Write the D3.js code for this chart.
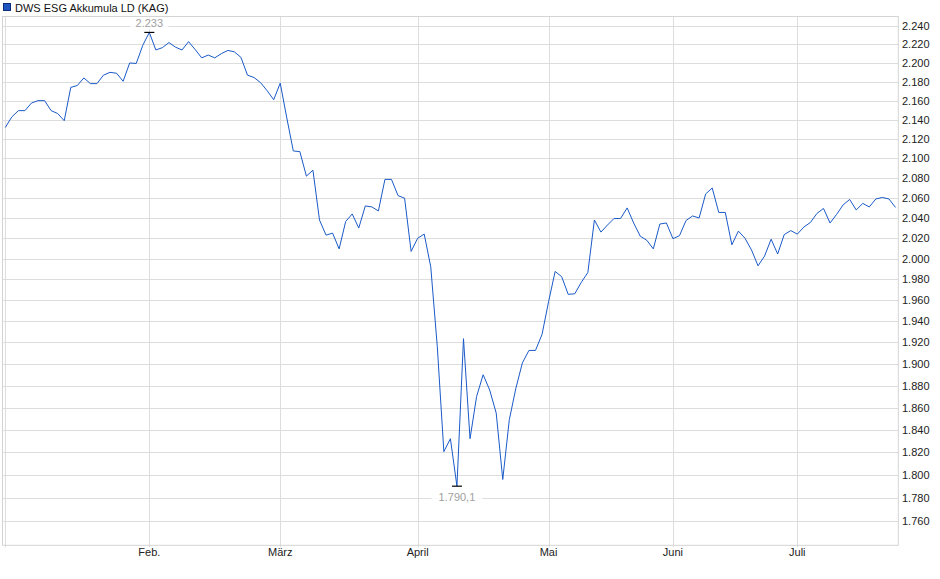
<!DOCTYPE html>
<html>
<head>
<meta charset="utf-8">
<script src="https://cdn.jsdelivr.net/npm/d3@7/dist/d3.min.js"></script>
<style>
  html, body { margin: 0; padding: 0; background: #fff; }
  svg { display: block; font-family: "Liberation Sans", Arial, sans-serif; }
</style>
</head>
<body>
<svg id="chart" width="940" height="579"></svg>
<script>
// ---- data (one value per trading day, Jan–Jul) ----
const seriesName = "DWS ESG Akkumula LD (KAG)";
const prices = [
  2132, 2143, 2149.5, 2149.5, 2157.5, 2160, 2160, 2149.5, 2146.5, 2139,
  2174, 2176, 2184, 2178, 2178, 2187, 2190, 2189, 2180.5, 2200,
  2199.5, 2219, 2233, 2214, 2216.5, 2222, 2217, 2214, 2223, 2214.5,
  2205.5, 2208.5, 2205.5, 2210, 2213.5, 2212, 2206, 2187, 2184.5, 2179,
  2170.5, 2161, 2178.5, 2142, 2107.7, 2107, 2082, 2088, 2038, 2023,
  2025, 2009.5, 2036.5, 2044, 2030, 2052, 2051, 2047, 2078.7, 2078.7,
  2062.3, 2059.8, 2007, 2020, 2024, 1992, 1916, 1820.5, 1832, 1790.1,
  1923.5, 1832, 1870, 1890, 1876, 1855, 1796, 1849, 1877.5, 1901,
  1912.5, 1912.5, 1927.5, 1958.5, 1987.5, 1982.5, 1965.5, 1966, 1977, 1986.5,
  2038, 2026, 2033, 2039.5, 2039.5, 2050, 2035, 2022, 2018, 2009.5,
  2034, 2035, 2019.5, 2022.5, 2037.5, 2042, 2040, 2064, 2070, 2045.5,
  2045.5, 2013.5, 2027, 2020, 2008.5, 1993, 2002.5, 2019, 2004.5, 2023.5,
  2027.5, 2024, 2031, 2035.5, 2044.5, 2049.5, 2035, 2043.5, 2053, 2058.5,
  2048, 2054.5, 2051, 2059, 2060.5, 2059, 2050.5
];
const monthLabels = ["", "Feb.", "März", "April", "Mai", "Juni", "Juli"];
const monthIndex  = [0, 22, 42, 63, 83, 102, 121];
const yTicks = [1760, 1780, 1800, 1820, 1840, 1860, 1880, 1900, 1920, 1940, 1960,
                1980, 2000, 2020, 2040, 2060, 2080, 2100, 2120, 2140, 2160, 2180,
                2200, 2220, 2240];

// ---- layout ----
const plot = { left: 2.5, right: 898.3, top: 16.5, bottom: 545.3 };
const de = d3.formatLocale({ decimal: ",", thousands: ".", grouping: [3], currency: ["", " €"] });
const fmtTick = de.format(",.0f");
const fmtMax = de.format(",.0f");
const fmtMin = de.format(",.1f");

const svg = d3.select("#chart");

const x = d3.scaleLinear().domain([-0.43, prices.length - 1 + 0.43]).range([plot.left, plot.right]);
const y = d3.scaleLog().domain([1760, 2240]).range([521, 26]);

// title / legend
svg.append("rect").attr("x", 3.5).attr("y", 3.5).attr("width", 7).attr("height", 7)
  .attr("fill", "#1f55c0").attr("stroke", "#0c2d7a").attr("stroke-width", 1);
svg.append("text").attr("x", 15).attr("y", 11.5).attr("font-size", 11).attr("fill", "#111")
  .text(seriesName);

// horizontal gridlines
svg.append("g").selectAll("line").data(yTicks).join("line")
  .attr("x1", plot.left).attr("x2", plot.right)
  .attr("y1", d => Math.round(y(d)) + 0.5).attr("y2", d => Math.round(y(d)) + 0.5)
  .attr("stroke", "#dddddd").attr("stroke-width", 1);

// vertical month gridlines
svg.append("g").selectAll("line").data(monthIndex).join("line")
  .attr("x1", d => Math.round(x(d)) + 0.5).attr("x2", d => Math.round(x(d)) + 0.5)
  .attr("y1", plot.top).attr("y2", plot.bottom + 2)
  .attr("stroke", "#dddddd").attr("stroke-width", 1);

// frame
svg.append("rect")
  .attr("x", plot.left).attr("y", plot.top)
  .attr("width", plot.right - plot.left).attr("height", plot.bottom - plot.top)
  .attr("fill", "none").attr("stroke", "#d4d4d4").attr("stroke-width", 1);

// y axis labels (right)
svg.append("g").selectAll("text").data(yTicks).join("text")
  .attr("x", 902).attr("y", d => y(d)).attr("dy", "0.36em")
  .attr("font-size", 11).attr("fill", "#222")
  .text(d => fmtTick(d));

// x axis labels
svg.append("g").selectAll("text").data(monthIndex).join("text")
  .attr("x", d => x(d)).attr("y", 556)
  .attr("text-anchor", "middle").attr("font-size", 11).attr("fill", "#222")
  .text((d, i) => monthLabels[i]);

// price line
const line = d3.line().x((d, i) => x(i)).y(d => y(d));
svg.append("path").datum(prices)
  .attr("d", line).attr("fill", "none")
  .attr("stroke", "#1a5ac8").attr("stroke-width", 1).attr("stroke-linejoin", "miter");

// extremes
const maxV = d3.max(prices), minV = d3.min(prices);
const maxI = prices.indexOf(maxV), minI = prices.indexOf(minV);

function extreme(i, v, label, above) {
  const cx = x(i), cy = y(v);
  svg.append("line").attr("x1", cx - 5).attr("x2", cx + 5)
    .attr("y1", cy).attr("y2", cy).attr("stroke", "#000").attr("stroke-width", 1.2);
  const ty = above ? cy - 9 : cy + 11;
  const w = label.length * 6.4 + 6;
  svg.append("rect").attr("x", cx - w / 2).attr("y", ty - 6).attr("width", w).attr("height", 12)
    .attr("fill", "#fff").attr("fill-opacity", 0.85);
  svg.append("text").attr("x", cx).attr("y", ty).attr("dy", "0.36em")
    .attr("text-anchor", "middle").attr("font-size", 11).attr("fill", "#a0a0a0")
    .text(label);
}
extreme(maxI, maxV, fmtMax(maxV), true);
extreme(minI, minV, fmtMin(minV), false);
</script>
</body>
</html>
